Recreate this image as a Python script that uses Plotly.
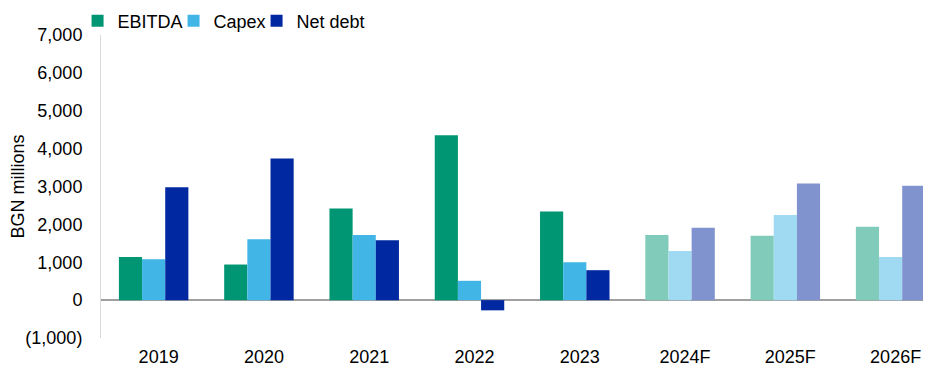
import plotly.graph_objects as go

years = ["2019", "2020", "2021", "2022", "2023", "2024F", "2025F", "2026F"]
ebitda = [1140, 940, 2420, 4350, 2340, 1720, 1700, 1940]
capex = [1080, 1610, 1720, 510, 1000, 1300, 2250, 1140]
net_debt = [2980, 3740, 1580, -270, 790, 1910, 3080, 3020]
forecast = [False, False, False, False, False, True, True, True]

y_tickvals = [-1000, 0, 1000, 2000, 3000, 4000, 5000, 6000, 7000]
y_ticktext = ["(1,000)", "0", "1,000", "2,000", "3,000", "4,000", "5,000", "6,000", "7,000"]

series = [
    ("EBITDA", ebitda, "#009673", "#80CBB9", 51),
    ("Capex", capex, "#41B6E6", "#A0DAF2", 38),
    ("Net debt", net_debt, "#0028A0", "#8093CF", 70),
]

font = "Liberation Sans, Arial, sans-serif"
fig = go.Figure()
for name, vals, c, cl, lw in series:
    cols = [cl if f else c for f in forecast]
    fig.add_trace(go.Bar(
        x=years, y=vals, name=name, legendwidth=lw,
        marker=dict(color=cols, line=dict(width=0)),
    ))

fig.update_layout(
    width=931, height=366,
    margin=dict(l=93, r=1, t=27, b=36, autoexpand=False),
    paper_bgcolor="white", plot_bgcolor="white",
    barmode="group", bargap=0.34, bargroupgap=0,
    font=dict(family=font, size=18, color="#000000"),
    legend=dict(orientation="h", x=-0.028, y=0.985, xanchor="left", yanchor="bottom",
                font=dict(size=18), itemwidth=30, tracegroupgap=0,
                bgcolor="rgba(0,0,0,0)"),
    showlegend=True,
)
fig.update_xaxes(showgrid=False, showline=False, ticks="", tickfont=dict(size=18),
                 range=[-0.5, 7.45], ticklabelstandoff=6, ticklabelshift=5)
fig.update_yaxes(
    range=[-1000, 7000], tickvals=y_tickvals, ticktext=y_ticktext,
    showgrid=False, showline=True, linecolor="#D9D9D9", linewidth=1,
    zeroline=True, zerolinecolor="#A0A0A0", zerolinewidth=2,
    ticks="", ticklabelstandoff=14, tickfont=dict(size=18),
    title=dict(text="BGN millions", font=dict(size=18), standoff=8),
)
fig.write_html("out.html")
